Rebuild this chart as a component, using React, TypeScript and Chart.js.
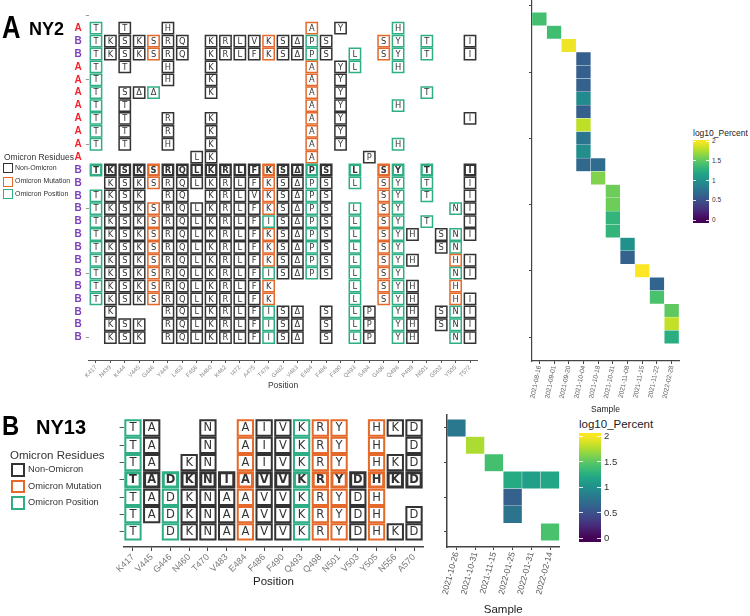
import React, { useEffect, useRef } from 'react';
import { Chart, registerables } from 'chart.js';

Chart.register(...registerables);

// ---------------- Panel A (NY2) data ----------------
const positionsA = ['K417', 'N439', 'K444', 'V445', 'G446', 'Y449', 'L452', 'F456', 'N460', 'K462', 'I472', 'A475', 'T478', 'G482', 'V483', 'E484', 'F486', 'F490', 'Q493', 'S494', 'G496', 'Q498', 'P499', 'N501', 'G502', 'Y505', 'T572'];
const omicronResidueA = ['N', '', '', '', 'S', '', '', '', '', '', '', '', 'K', '', '', 'A', '', '', 'R', '', 'S', 'R', '', 'Y', '', 'H', ''];
const rowGroupA = ['A', 'B', 'B', 'A', 'A', 'A', 'A', 'A', 'A', 'A', 'A', 'B', 'B', 'B', 'B', 'B', 'B', 'B', 'B', 'B', 'B', 'B', 'B', 'B', 'B'];
const residuesA = [
  'T.T..H.........A.Y...H.....',
  'TKSKSRQ.KRLVKSΔPS...SY.T..I',
  'TKSKSRQ.KRLFKSΔPS.L.SY.T..I',
  'T.T..H..K......A.YL..H.....',
  'T....H..K......A.Y.........',
  'T.SΔΔ...K......A.Y.....T...',
  'T.T............A.Y...H.....',
  'T.T..R..K......A.Y........I',
  'T.T..R..K......A.Y.........',
  'T.T..H..K......A.Y...H.....',
  '.......LK......A...P.......',
  'TKSKSRQLKRLFKSΔPS.L.SY.T..I',
  '.KSKSRQLKRLFKSΔPS.L.SY.T..I',
  'TKSK.RQ.KRLVKSΔPS...SY.T..I',
  'TKSKSRQLKRLFKSΔPS.L.SY...NI',
  'TKSKSRQLKRLFISΔPS.L.SY.T..I',
  'TKSKSRQLKRLFKSΔPS.L.SYH.SNI',
  'TKSKSRQLKRLFKSΔPS.L.SY..SN.',
  'TKSKSRQLKRLFKSΔPS.L.SYH..HI',
  'TKSKSRQLKRLFISΔPS.L.SY...NI',
  'TKSKSRQLKRLFK.....L.SYH..H.',
  'TKSKSRQLKRLFK.....L.SYH..HI',
  '.K...RQLKRLFISΔ.S.LP.YH.SNI',
  '.KSK.RQLKRLFISΔ.S.LP.YH.SNI',
  '.KSK.RQLKRLFISΔ.S.LP.YH..NI',
];
const boldRowA = 12;

const samplesA = ['2021-08-16', '2021-09-01', '2021-09-20', '2021-10-04', '2021-10-18', '2021-10-31', '2021-11-08', '2021-11-15', '2021-11-22', '2022-02-28'];
const heatRowA = [1, 2, 3, 4, 5, 6, 7, 8, 9, 10, 11, 12, 12, 13, 14, 15, 16, 17, 18, 19, 20, 21, 22, 23, 24, 25];
const heatSampleA = ['2021-08-16', '2021-09-01', '2021-09-20', '2021-10-04', '2021-10-04', '2021-10-04', '2021-10-04', '2021-10-04', '2021-10-04', '2021-10-04', '2021-10-04', '2021-10-04', '2021-10-18', '2021-10-18', '2021-10-31', '2021-10-31', '2021-10-31', '2021-10-31', '2021-11-08', '2021-11-08', '2021-11-15', '2021-11-22', '2021-11-22', '2022-02-28', '2022-02-28', '2022-02-28'];
const heatValueA = [1.4, 1.38, 1.95, 0.6, 0.6, 0.62, 0.95, 0.6, 1.8, 0.78, 0.98, 0.68, 0.7, 1.62, 1.55, 1.55, 1.3, 1.3, 1.0, 0.62, 2.0, 0.65, 1.42, 1.5, 1.82, 1.25];

// ---------------- Panel B (NY13) data ----------------
const positionsB = ['K417', 'V445', 'G446', 'N460', 'T470', 'V483', 'E484', 'F486', 'F490', 'Q493', 'Q498', 'N501', 'V503', 'Y505', 'N556', 'A570'];
const omicronResidueB = ['N', '', 'S', '', '', '', 'A', '', '', 'R', 'R', 'Y', '', 'H', '', ''];
const residuesB = [
  'TA..N.AIVKRY.HKD',
  'TA..N.AIVKRY.H.D',
  'TA.KN.AIVKRY.HKD',
  'TADKNIAVVKRYDHKD',
  'TADKNAAVVKRYDH..',
  'TADKNAAVVKRYDH.D',
  'T.DKNAAVVKRYDHKD',
];
const boldRowB = 4;

const samplesB = ['2021-10-26', '2021-10-31', '2021-11-15', '2022-01-25', '2022-01-31', '2022-02-14'];
const heatRowB = [1, 2, 3, 4, 4, 4, 5, 6, 7];
const heatSampleB = ['2021-10-26', '2021-10-31', '2021-11-15', '2022-01-25', '2022-01-31', '2022-02-14', '2022-01-25', '2022-01-25', '2022-02-14'];
const heatValueB = [0.8, 1.75, 1.4, 1.22, 1.12, 1.18, 0.62, 0.76, 1.42];

const colorbarTicks = [0, 0.5, 1, 1.5, 2];
const legendLabels = ['Non-Omicron', 'Omicron Mutation', 'Omicron Position'];

// ---------------- styling ----------------
const FONT = "'Liberation Sans', Arial, sans-serif";
const KIND_COLORS: Record<string, string> = { non: '#333333', mut: '#e4692a', pos: '#2fae86' };
const LEGEND_COLORS = [KIND_COLORS.non, KIND_COLORS.mut, KIND_COLORS.pos];
const VIRIDIS = ['#440154', '#482475', '#414487', '#355f8d', '#2a788e', '#21918c', '#22a884', '#44bf70', '#7ad151', '#bddf26', '#fde725'];

function hexRgb(h: string) {
  return [parseInt(h.slice(1, 3), 16), parseInt(h.slice(3, 5), 16), parseInt(h.slice(5, 7), 16)];
}
function viridis(v: number) {
  const t = Math.max(0, Math.min(1, v / 2)) * 10;
  const i = Math.min(9, Math.floor(t));
  const f = t - i;
  const a = hexRgb(VIRIDIS[i]);
  const b = hexRgb(VIRIDIS[i + 1]);
  const c = a.map((x, k) => Math.round(x + (b[k] - x) * f));
  return `rgb(${c[0]},${c[1]},${c[2]})`;
}

function lettersPlugin(size: number) {
  return {
    id: 'letters',
    afterDatasetsDraw(chart: any) {
      const ctx = chart.ctx;
      const meta = chart.getDatasetMeta(0);
      const data = chart.data.datasets[0].data as any[];
      ctx.save();
      ctx.textAlign = 'center';
      ctx.textBaseline = 'middle';
      ctx.fillStyle = '#333333';
      meta.data.forEach((el: any, i: number) => {
        const p = data[i];
        ctx.font = `${p.bold ? 'bold ' : ''}${size}px 'DejaVu Sans'`;
        ctx.fillText(p.ch, el.x, el.y + 0.5);
      });
      ctx.restore();
    },
  };
}

function gridConfig(s: any) {
  const points: any[] = [];
  s.residues.forEach((row: string, r: number) => {
    Array.from(row).forEach((ch: string, c: number) => {
      if (ch === '.') return;
      const om = s.omicron[c];
      points.push({ x: s.positions[c], y: r + 1, ch, kind: om === ch ? 'mut' : om ? 'pos' : 'non', bold: r + 1 === s.boldRow });
    });
  });
  const side = (p: any) => (p && p.bold ? s.box - s.bwBold : s.box - s.bw);
  const bw = (c: any) => (c.raw && c.raw.bold ? s.bwBold : s.bw);
  return {
    type: 'scatter',
    data: {
      datasets: [{
        data: points,
        pointStyle: 'rect',
        pointRadius: (c: any) => side(c.raw) / Math.SQRT2,
        pointHoverRadius: (c: any) => side(c.raw) / Math.SQRT2,
        pointBorderWidth: bw,
        pointHoverBorderWidth: bw,
        pointBorderColor: (c: any) => KIND_COLORS[c.raw ? c.raw.kind : 'non'],
        pointBackgroundColor: '#ffffff',
        clip: false,
      }],
    },
    options: {
      responsive: false,
      animation: false,
      devicePixelRatio: 1,
      events: [],
      layout: { padding: { left: 0, top: s.padTop, right: s.padRight, bottom: 0 } },
      plugins: { legend: { display: false }, tooltip: { enabled: false } },
      scales: {
        x: {
          type: 'category',
          labels: s.positions,
          offset: true,
          grid: { display: true, drawOnChartArea: false, drawTicks: true, tickLength: s.tickLen, tickColor: s.axisColor, color: 'rgba(0,0,0,0)', offset: false },
          border: { display: true, color: s.axisColor, width: s.axisWidth },
          ticks: { autoSkip: false, minRotation: s.rotation, maxRotation: s.rotation, padding: 1, color: s.xTickColor, font: { family: FONT, size: s.xTickSize } },
          title: { display: true, text: 'Position', color: s.titleColor, font: { family: FONT, size: s.titleSize }, padding: { top: 0, bottom: s.titlePad } },
          afterFit: (sc: any) => { sc.height = s.bottomH; sc.paddingLeft = 0; sc.paddingRight = 0; },
        },
        y: {
          type: 'linear',
          reverse: true,
          min: s.yMin,
          max: s.yMax,
          afterBuildTicks: (sc: any) => { sc.ticks = s.yTicks.map((v: number) => ({ value: v })); },
          ticks: {
            autoSkip: false,
            padding: s.yLabelPad,
            callback: (v: any) => (s.rowLabels ? s.rowLabels[v - 1] || '' : ''),
            color: (c: any) => (s.rowLabels && s.rowLabels[c.tick.value - 1] === 'A' ? '#f5222d' : '#7b3db8'),
            font: { family: FONT, size: 10, weight: 'bold' },
          },
          grid: {
            display: true, drawOnChartArea: false, drawTicks: true, tickLength: s.yTickLen, tickWidth: 1, color: 'rgba(0,0,0,0)',
            tickColor: (c: any) => (c.tick && s.tickMark(c.tick.value) ? s.yTickColor : 'rgba(0,0,0,0)'),
          },
          border: { display: false },
          afterFit: (sc: any) => { sc.width = s.leftW; sc.paddingTop = 0; sc.paddingBottom = 0; },
        },
      },
    },
    plugins: [lettersPlugin(s.letterSize)],
  };
}

function heatConfig(s: any) {
  const data = s.rows.map((r: number, i: number) => ({ x: s.sampleOf[i], y: [r - 0.5, r + 0.5], v: s.values[i] }));
  return {
    type: 'bar',
    data: {
      labels: s.samples,
      datasets: [{
        data,
        backgroundColor: (c: any) => viridis(c.raw ? c.raw.v : 0),
        borderColor: 'rgba(255,255,255,0.6)',
        borderWidth: 0.5,
        borderSkipped: false,
        barPercentage: 1,
        categoryPercentage: 1,
        grouped: false,
      }],
    },
    options: {
      responsive: false,
      animation: false,
      devicePixelRatio: 1,
      events: [],
      layout: { padding: { left: 0, top: s.padTop, right: s.padRight, bottom: 0 } },
      plugins: { legend: { display: false }, tooltip: { enabled: false } },
      scales: {
        x: {
          type: 'category',
          offset: true,
          grid: { display: true, drawOnChartArea: false, drawTicks: true, tickLength: 3, tickColor: '#444', color: 'rgba(0,0,0,0)', offset: false },
          border: { display: true, color: '#444', width: s.axisWidth },
          ticks: { autoSkip: false, minRotation: s.rotation, maxRotation: s.rotation, padding: 1, color: '#555', font: { family: FONT, size: s.xTickSize } },
          title: { display: true, text: 'Sample', color: '#222', font: { family: FONT, size: s.titleSize }, padding: { top: 0, bottom: s.titlePad } },
          afterFit: (sc: any) => { sc.height = s.bottomH; sc.paddingLeft = 0; sc.paddingRight = 0; },
        },
        y: {
          type: 'linear',
          reverse: true,
          min: s.yMin,
          max: s.yMax,
          afterBuildTicks: (sc: any) => { sc.ticks = s.yTicks.map((v: number) => ({ value: v })); },
          ticks: { callback: () => '', font: { family: FONT, size: 8 } },
          grid: { display: true, drawOnChartArea: false, drawTicks: true, tickLength: 3, tickColor: '#444', color: 'rgba(0,0,0,0)' },
          border: { display: true, color: '#444', width: s.axisWidth },
          afterFit: (sc: any) => { sc.width = s.leftW; sc.paddingTop = 0; sc.paddingBottom = 0; },
        },
      },
    },
  };
}

function ChartBox({ make, left, top, width, height }: { make: () => any; left: number; top: number; width: number; height: number }) {
  const ref = useRef<HTMLCanvasElement>(null);
  useEffect(() => {
    const chart = new Chart(ref.current as HTMLCanvasElement, make());
    return () => chart.destroy();
  }, []);
  return <canvas ref={ref} width={width} height={height} style={{ position: 'absolute', left, top, width, height }} />;
}

function Txt({ x, cy, size, text, bold, color, lh }: { x: number; cy: number; size: number; text: string; bold?: boolean; color?: string; lh?: number }) {
  const h = lh || size * 1.2;
  return (
    <div style={{ position: 'absolute', left: x, top: cy - h / 2, height: h, lineHeight: `${h}px`, fontSize: size, fontWeight: bold ? 700 : 400, color: color || '#333', whiteSpace: 'nowrap', fontFamily: FONT }}>
      {text}
    </div>
  );
}

function ResidueLegend({ x, titleCy, titleSize, boxX, box, border, itemCys, labelX, labelSize }: any) {
  return (
    <>
      <Txt x={x} cy={titleCy} size={titleSize} text="Omicron Residues" color="#333" />
      {legendLabels.map((lab, i) => (
        <React.Fragment key={lab}>
          <div style={{ position: 'absolute', left: boxX, top: itemCys[i] - box / 2, width: box, height: box, boxSizing: 'border-box', border: `${border}px solid ${LEGEND_COLORS[i]}`, background: '#fff' }} />
          <Txt x={labelX} cy={itemCys[i]} size={labelSize} text={lab} color="#333" />
        </React.Fragment>
      ))}
    </>
  );
}

function Colorbar({ x, top, w, h, y0, perUnit, titleCy, titleSize, labelX, labelSize, markW }: any) {
  const vTop = (y0 - top) / perUnit;
  const vBot = (y0 - (top + h)) / perUnit;
  const stops: string[] = [];
  for (let k = 0; k <= 20; k++) {
    const v = vBot + ((vTop - vBot) * k) / 20;
    stops.push(`${viridis(v)} ${(k / 20) * 100}%`);
  }
  return (
    <>
      <Txt x={x} cy={titleCy} size={titleSize} text="log10_Percent" color="#222" />
      <div style={{ position: 'absolute', left: x, top, width: w, height: h, background: `linear-gradient(to top, ${stops.join(', ')})` }} />
      {colorbarTicks.map((v) => {
        const y = y0 - v * perUnit;
        return (
          <React.Fragment key={v}>
            <div style={{ position: 'absolute', left: x, top: y - 0.5, width: markW, height: 1, background: 'rgba(255,255,255,0.85)' }} />
            <div style={{ position: 'absolute', left: x + w - markW, top: y - 0.5, width: markW, height: 1, background: 'rgba(255,255,255,0.85)' }} />
            <Txt x={labelX} cy={y} size={labelSize} text={String(v)} color="#333" />
          </React.Fragment>
        );
      })}
    </>
  );
}

const ROWS_A = residuesA.map((_, i) => i);

export default function App() {
  const gridA = () => gridConfig({
    positions: positionsA, omicron: omicronResidueA, residues: residuesA, boldRow: boldRowA, rowLabels: rowGroupA,
    yMin: -0.434, yMax: 26.736, yTicks: [0, ...ROWS_A.map((i) => i + 1)], tickMark: (v: number) => v % 5 === 0,
    leftW: 88.8, bottomH: 32, padTop: 0, padRight: 12.8,
    box: 12.8, boxBold: 12.8, bw: 1.5, bwBold: 2.3, letterSize: 8.3,
    xTickSize: 6, xTickColor: '#888', titleSize: 8.5, titleColor: '#333', titlePad: 1,
    axisWidth: 1, axisColor: '#555', tickLen: 3, rotation: 45, yLabelPad: 4, yTickLen: 3, yTickColor: '#999',
  });
  const heatA = () => heatConfig({
    samples: samplesA, rows: heatRowA, sampleOf: heatSampleA, values: heatValueA,
    yMin: -0.434, yMax: 26.81, yTicks: [0, 5, 10, 15, 20, 25],
    leftW: 32, bottomH: 57, padTop: 0, padRight: 11, axisWidth: 1.2, rotation: 78, xTickSize: 6.5, titleSize: 8.5, titlePad: 3,
  });
  const gridB = () => gridConfig({
    positions: positionsB, omicron: omicronResidueB, residues: residuesB, boldRow: boldRowB, rowLabels: null,
    yMin: 0.25, yMax: 7.87, yTicks: [1, 2, 3, 4, 5, 6, 7], tickMark: () => true,
    leftW: 123.6, bottomH: 44, padTop: 15, padRight: 16.6,
    box: 17.3, boxBold: 17.3, bw: 2, bwBold: 3, letterSize: 11.5,
    xTickSize: 9, xTickColor: '#777', titleSize: 11.5, titleColor: '#222', titlePad: 2,
    axisWidth: 1.5, axisColor: '#444', tickLen: 4, rotation: 45, yLabelPad: 3, yTickLen: 4, yTickColor: '#555',
  });
  const heatB = () => heatConfig({
    samples: samplesB, rows: heatRowB, sampleOf: heatSampleB, values: heatValueB,
    yMin: 0.25, yMax: 7.87, yTicks: [1, 3, 5, 7],
    leftW: 27, bottomH: 73, padTop: 15, padRight: 10.5, axisWidth: 1.5, rotation: 75, xTickSize: 8.5, titleSize: 11.5, titlePad: 3,
  });

  return (
    <div style={{ position: 'absolute', left: 0, top: 0, width: 750, height: 616, overflow: 'hidden', background: '#fff', fontFamily: FONT }}>
      <ChartBox make={gridA} left={0} top={0} width={490} height={392} />
      <ChartBox make={heatA} left={500} top={0} width={190} height={418} />
      <ChartBox make={gridB} left={0} top={400} width={440} height={191} />
      <ChartBox make={heatB} left={420} top={400} width={150} height={220} />

      <div style={{ position: 'absolute', left: 2, top: 11, fontSize: 32, lineHeight: '32px', fontWeight: 700, color: '#000', fontFamily: FONT, transform: 'scaleX(0.8)', transformOrigin: 'left top' }}>A</div>
      <div style={{ position: 'absolute', left: 29, top: 20, fontSize: 18, lineHeight: '18px', fontWeight: 700, color: '#000', fontFamily: FONT }}>NY2</div>
      <div style={{ position: 'absolute', left: 2, top: 412, fontSize: 28, lineHeight: '28px', fontWeight: 700, color: '#000', fontFamily: FONT, transform: 'scaleX(0.85)', transformOrigin: 'left top' }}>B</div>
      <div style={{ position: 'absolute', left: 36, top: 417, fontSize: 20, lineHeight: '20px', fontWeight: 700, color: '#000', fontFamily: FONT }}>NY13</div>

      <ResidueLegend x={4} titleCy={157} titleSize={8.5} boxX={3} box={10} border={1.5} itemCys={[168, 181.5, 194]} labelX={15} labelSize={7} />
      <ResidueLegend x={10} titleCy={456} titleSize={11.5} boxX={11} box={13.5} border={2} itemCys={[470, 486.7, 503]} labelX={28} labelSize={9.3} />

      <Colorbar x={693} top={140} w={16} h={83} y0={220} perUnit={39.5} titleCy={133} titleSize={8.5} labelX={712} labelSize={6.5} markW={3} />
      <Colorbar x={579} top={433} w={22} h={109} y0={538} perUnit={51} titleCy={425} titleSize={11.5} labelX={604} labelSize={9.5} markW={4} />
    </div>
  );
}
